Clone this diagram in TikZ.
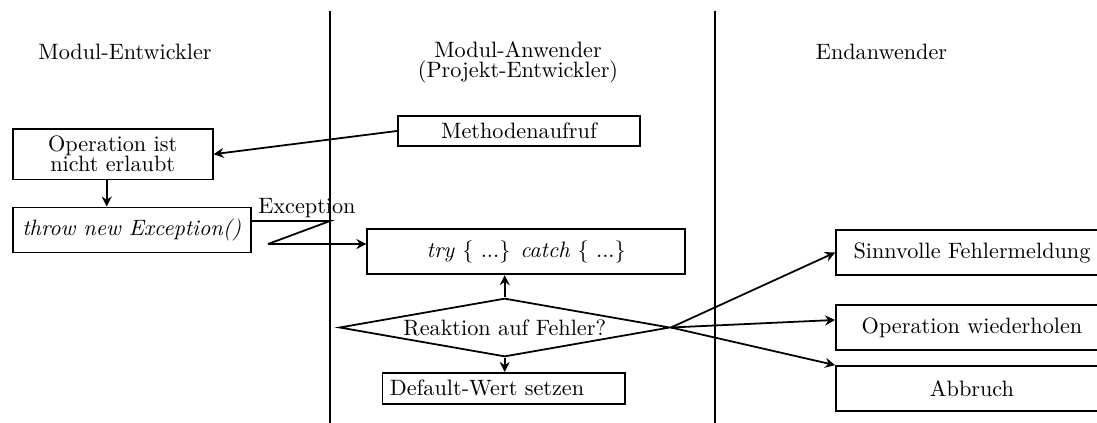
\documentclass[tikz,border=0pt]{standalone}
\usetikzlibrary{arrows.meta,shapes.geometric}
\tikzset{
  >={Stealth[length=4.5pt,width=4.5pt]},
  box/.style={draw,thick,minimum width=#1,minimum height=20.25pt,align=center},
  box/.default=90pt,
  slim/.style={draw,thick,text width=102.5pt,minimum height=13.5pt},
  choice/.style={diamond,draw,thick,aspect=5.66,inner sep=0pt,
    minimum width=148.8pt,minimum height=26.3pt},
  head/.style={align=center},
  lane/.style={thick},
  flow/.style={->,thick},
}
\begin{document}
\begin{tikzpicture}[x=0.45pt,y=-0.45pt]
  \useasboundingbox (0,0) rectangle (1097,422);
  % lanes
  \draw[lane] (330,10.5) -- (330,425);
  \draw[lane] (715,10.5) -- (715,425);
  \node[head] (h1) at (125,52) {Modul-Entwickler};
  \node[head] (h2) at (518,62) {Modul-Anwender\\[-3pt](Projekt-Entwickler)};
  \node[head] (h3) at (881.5,52) {Endanwender};
  % Modul-Entwickler
  \node[box] (op) at (112.7,154.2) {Operation ist\\[-3pt]nicht erlaubt};
  \node[box=107.1pt] (thr) at (131.7,229.9) {\textit{throw new Exception()}};
  % Modul-Anwender
  \node[slim,align=center] (meth) at (519,131) {Methodenaufruf};
  \node[box=143pt] (try) at (526.2,251.8) {\textit{try} \{ ...\} \textit{catch} \{ ...\}};
  \node[choice] (dia) at (504.7,327.5) {Reaktion auf Fehler?};
  \node[slim,align=left] (dflt) at (503.7,388.3) {Default-Wert setzen};
  % Endanwender
  \node[box=122.4pt] (sinn) at (972,252.5) {Sinnvolle Fehlermeldung};
  \node[box=122.4pt] (wied) at (972,327.5) {Operation wiederholen};
  \node[box=122.4pt] (abbr) at (972,388.5) {Abbruch};
  \coordinate (e1) at (330,221);
  \coordinate (e2) at (268,244);
  \draw[flow] (meth.west) -- (op.east);
  \draw[flow] ([xshift=-2.7pt]op.south) -- ([xshift=-2.7pt]op.south |- thr.north);
  \draw[thick] ([yshift=4pt]thr.east) -- node[pos=0.706,above,inner sep=1pt]{Exception} (e1) -- (e2);
  \draw[flow] (e2) -- (e2 -| try.west);
  \draw[flow] (dia.north) -- (dia.north |- try.south);
  \draw[flow] (dia.south) -- (dia.south |- dflt.north);
  \draw[flow] (dia.east) -- (sinn.west);
  \draw[flow] (dia.east) -- ([yshift=3.4pt]wied.west);
  \draw[flow] (dia.east) -- (abbr.north west);
\end{tikzpicture}
\end{document}
